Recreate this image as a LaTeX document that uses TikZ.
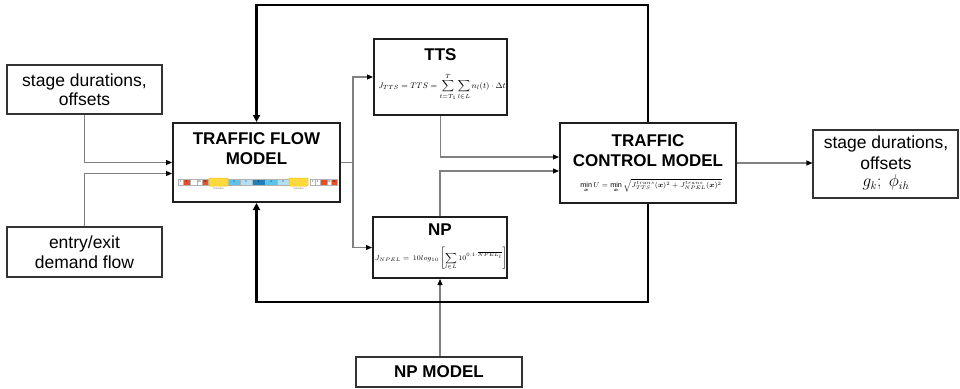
\documentclass[tikz,border=0pt]{standalone}
\usepackage{amsmath}
\usepackage{fontspec}
\setmainfont{Liberation Sans}
\usetikzlibrary{arrows.meta,calc}

\definecolor{linkgray}{HTML}{808080}
\definecolor{stripred}{HTML}{E8502A}
\definecolor{transyellow}{HTML}{FFD93D}
\definecolor{transedge}{HTML}{F2C200}
\definecolor{bluelight}{HTML}{5CC4EC}
\definecolor{bluepale}{HTML}{B2E0F3}
\definecolor{bluedark}{HTML}{1F7FB8}

\begin{document}
\begin{tikzpicture}[x=1pt,y=-1pt,
  plainbox/.style={draw=black!80, line width=1.1pt, fill=white, inner sep=0pt,
    align=center, font=\fontsize{17.5}{19.5}\selectfont},
  mainbox/.style={draw=black!88, line width=2pt, inner sep=0pt},
  titletext/.style={inner sep=0pt, align=center,
    font=\fontsize{17}{20}\selectfont\bfseries},
  formula/.style={inner sep=0pt, font=\fontsize{8}{10}\selectfont},
  link/.style={draw=linkgray, line width=1.1pt,
    -{Triangle[length=6pt,width=5pt,color=black]}},
  feedback/.style={draw=black, line width=2.4pt,
    -{Triangle[length=7pt,width=7pt]}},
  cellbox/.style={draw=black!30, line width=0.3pt},
  celltext/.style={inner sep=0pt, font=\fontsize{2.5}{3}\selectfont},
]
\useasboundingbox (0,0) rectangle (960,388);

% ---- input boxes on the left
\node[plainbox, minimum width=155pt, minimum height=49pt] (in1) at (84.5,89.5)
  {stage durations,\\offsets};
\node[plainbox, minimum width=155pt, minimum height=50pt] (in2) at (84.5,252)
  {entry/exit\\demand flow};

% ---- traffic flow model
\node[mainbox, minimum width=167pt, minimum height=79pt] (tf) at (256.5,162.5) {};
\node[titletext] (tftitle) at (256.5,149) {TRAFFIC FLOW\\MODEL};

% signal plan strip inside the traffic flow model
\foreach \a/\b/\c/\t [count=\i] in {178/183/white/1, 183/190/stripred/2,
    190/197/white/\dots, 197/202/white/25, 202/208/stripred/26,
    228/240/bluelight/1, 240/252/bluepale/2, 252/265/bluedark/3,
    265/277/bluelight/4, 277/289/bluepale/5,
    310/315/white/1, 315/320/white/2, 320/327/stripred/\dots,
    327/331/white/25, 331/337/stripred/26} {
  \draw[cellbox, fill=\c] (\a,179) rectangle (\b,185);
  \node[celltext] (cell\i) at ({(\a+\b)/2},182) {\t};
}
\foreach \a/\b [count=\i] in {209/228, 289/308} {
  \draw[draw=transedge, line width=0.5pt, fill=transyellow, rounded corners=0.8pt]
    (\a,178) rectangle (\b,186);
  \node[celltext, text=black!60] (trans\i) at ({(\a+\b)/2},189) {Transition};
}

% ---- objective boxes
\node[mainbox, minimum width=133pt, minimum height=76pt] (tts) at (440.5,77) {};
\node[titletext] (ttstitle) at (440.5,55) {TTS};
\node[formula] (ttsf) at (442,87)
  {$J_{TTS} = TTS = \displaystyle\sum_{t=T_1}^{T}\sum_{l\in L} n_l(t)\cdot\Delta t$};

\node[mainbox, minimum width=134pt, minimum height=61pt] (np) at (440,247.5) {};
\node[titletext] (nptitle) at (440,230) {NP};
\node[formula, font=\fontsize{7.3}{9}\selectfont] (npf) at (441,259)
  {$J_{NPEL} =\,10log_{10}\left[\displaystyle\sum_{l\in L} 10^{0.1\cdot\overline{NPEL_l}}\right]$};

% ---- traffic control model
\node[mainbox, minimum width=176pt, minimum height=80pt] (ctrl) at (648,163) {};
\node[titletext] (ctrltitle) at (648,151) {TRAFFIC\\CONTROL MODEL};
\node[formula, font=\fontsize{7.2}{9}\selectfont] (ctrlf) at (651,185.5)
  {$\min\limits_{\boldsymbol{x}} U = \min\limits_{\boldsymbol{x}}
   \sqrt{J^{trans}_{TTS}(\boldsymbol{x})^2 + J^{trans}_{NPEL}(\boldsymbol{x})^2}$};

% ---- output box
\node[plainbox, minimum width=145pt, minimum height=68pt] (out) at (885.5,164) {};
\node[inner sep=0pt, align=center, font=\fontsize{17.5}{20.5}\selectfont]
  (outtext) at (886,163)
  {stage durations,\\offsets\\[-3pt]{\fontsize{16}{16}\selectfont$g_k;\ \phi_{ih}$}};

% ---- noise prediction model
\node[plainbox, minimum width=166pt, minimum height=30pt,
  font=\fontsize{17}{20}\selectfont\bfseries] (npm) at (439,372) {NP MODEL};

% ---- connectors
\coordinate (split) at (353,162.5);
\draw[link] (in1.south) |- ([yshift=0pt]tf.west);
\draw[link] (in2.north) |- ([yshift=-11pt]tf.west);
\draw[draw=linkgray, line width=1.1pt] (tf.east) -- (split);
\draw[link] (split) |- (tts.west);
\draw[link] (split) |- (np.west);
\draw[link] (tts.south) |- ([yshift=6pt]ctrl.west);
\draw[link] (np.north) |- ([yshift=-8pt]ctrl.west);
\draw[link] (ctrl.east) -- (ctrl.east -| out.west);
\draw[link] (npm.north -| np.south) -- (np.south);

% ---- feedback from the control model to the traffic flow model
\draw[feedback] (ctrl.north) -- (648,5) -| (tf.north);
\draw[feedback] (ctrl.south) -- (648,302) -| (tf.south);
\end{tikzpicture}
\end{document}
